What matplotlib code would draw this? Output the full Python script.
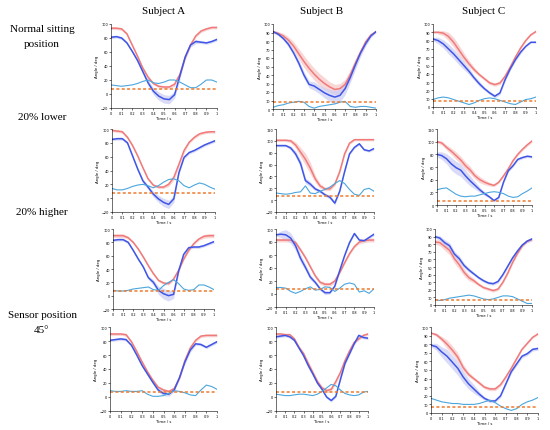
import numpy as np
import matplotlib.pyplot as plt

# time grid (s), 0.05 steps
time = np.round(np.arange(21) * 0.05, 2)

# row 1: normal sitting position
red_1a = [94, 94, 93, 86, 70, 54, 37, 24, 15, 11, 10, 10, 14, 28, 52, 70, 83, 90, 93, 95, 95]
blue_1a = [81, 82, 80, 73, 61, 48, 32, 16, 4, -3, -7, -8, -1, 26, 53, 70, 75, 74, 73, 75, 78]
cyan_1a = [13, 12, 11, 12, 13, 15, 18, 20, 16, 15, 17, 20, 20, 17, 13, 9, 9, 14, 20, 20, 17]
redsd_1a = [2, 2, 2, 2, 2, 2, 2, 2, 2, 2, 2, 2, 3, 3, 3, 2, 2, 2, 2, 2, 2]
bluesd_1a = [2, 2, 2, 2, 2, 3, 3, 4, 5, 6, 6, 6, 5, 4, 3, 3, 3, 2, 2, 2, 2]

red_1b = [91, 89, 86, 81, 74, 65, 56, 48, 41, 35, 30, 26, 23, 24, 29, 40, 54, 67, 79, 87, 91]
blue_1b = [91, 88, 83, 76, 66, 54, 40, 29, 27, 23, 19, 16, 14, 16, 24, 37, 52, 66, 77, 86, 91]
cyan_1b = [2, 4, 5, 7, 8, 9, 8, 3, 1, 3, 4, 5, 6, 8, 9, 3, 2, 3, 3, 2, 1]
redsd_1b = [2, 2, 3, 4, 5, 6, 7, 7, 7, 7, 7, 6, 6, 6, 6, 6, 5, 4, 3, 2, 1]
bluesd_1b = [1, 2, 2, 3, 3, 4, 4, 4, 5, 5, 6, 7, 8, 8, 7, 6, 5, 4, 3, 2, 1]

red_1c = [90, 90, 89, 85, 78, 69, 60, 52, 45, 39, 34, 29, 27, 29, 37, 48, 60, 71, 80, 87, 91]
blue_1c = [82, 80, 76, 70, 64, 57, 50, 43, 35, 28, 22, 17, 13, 17, 33, 46, 57, 66, 73, 78, 78]
cyan_1c = [9, 11, 12, 11, 9, 7, 5, 3, 5, 8, 10, 11, 10, 8, 6, 4, 3, 6, 9, 10, 12]
redsd_1c = [1, 2, 3, 5, 6, 6, 5, 4, 3, 2, 2, 2, 2, 2, 2, 2, 2, 2, 1, 1, 1]
bluesd_1c = [2, 4, 5, 6, 6, 6, 5, 4, 3, 3, 2, 2, 2, 2, 2, 2, 2, 2, 1, 1, 1]

# row 2: 20% lower
red_2a = [98, 97, 96, 88, 76, 61, 44, 28, 19, 16, 16, 20, 30, 49, 69, 81, 88, 93, 95, 96, 96]
blue_2a = [85, 86, 86, 80, 61, 42, 25, 16, 6, -1, -6, -9, -1, 37, 59, 66, 69, 73, 77, 80, 83]
cyan_2a = [14, 12, 12, 14, 17, 19, 20, 18, 15, 18, 23, 27, 28, 25, 18, 15, 19, 22, 20, 16, 13]
redsd_2a = [2, 2, 2, 2, 2, 2, 2, 2, 2, 2, 2, 3, 4, 4, 3, 2, 2, 2, 2, 2, 2]
bluesd_2a = [2, 2, 2, 2, 2, 2, 3, 3, 4, 5, 6, 6, 5, 3, 2, 2, 2, 2, 2, 2, 2]

red_2b = [101, 101, 101, 100, 93, 81, 69, 54, 36, 24, 19, 19, 27, 48, 78, 96, 102, 102, 102, 102, 102]
blue_2b = [92, 92, 92, 88, 78, 62, 33, 27, 19, 15, 9, 5, -5, 15, 48, 78, 89, 95, 85, 83, 87]
cyan_2b = [12, 11, 10, 11, 13, 14, 24, 12, 11, 15, 18, 22, 28, 33, 28, 18, 10, 8, 18, 20, 15]
redsd_2b = [2, 2, 2, 3, 5, 8, 10, 10, 6, 4, 3, 3, 3, 3, 3, 2, 2, 2, 2, 2, 2]
bluesd_2b = [2, 2, 2, 3, 5, 6, 5, 4, 3, 3, 3, 3, 3, 2, 2, 2, 2, 2, 2, 2, 2]

red_2c = [100, 98, 91, 85, 78, 71, 62, 55, 46, 40, 36, 33, 31, 36, 46, 57, 70, 80, 88, 95, 101]
blue_2c = [80, 78, 73, 65, 59, 55, 46, 38, 31, 24, 18, 13, 7, 12, 36, 54, 62, 72, 75, 77, 76]
cyan_2c = [24, 26, 27, 22, 17, 14, 13, 14, 14, 16, 18, 20, 21, 20, 18, 14, 12, 13, 18, 22, 27]
redsd_2c = [2, 3, 4, 5, 6, 6, 6, 6, 5, 5, 4, 3, 2, 2, 2, 2, 2, 2, 2, 2, 2]
bluesd_2c = [4, 6, 8, 10, 10, 10, 9, 8, 6, 4, 3, 2, 2, 2, 2, 2, 2, 2, 2, 2, 2]

# row 3: 20% higher
red_3a = [90, 90, 90, 87, 80, 70, 58, 45, 33, 23, 19, 18, 25, 38, 55, 68, 78, 85, 89, 90, 90]
blue_3a = [83, 84, 84, 80, 68, 55, 43, 27, 20, 8, 3, 0, 2, 37, 62, 72, 73, 73, 75, 78, 81]
cyan_3a = [8, 7, 7, 8, 10, 11, 12, 13, 9, 8, 15, 20, 24, 18, 10, 8, 9, 16, 16, 13, 9]
redsd_3a = [3, 3, 3, 2, 2, 2, 2, 2, 2, 2, 2, 2, 2, 2, 2, 2, 2, 2, 3, 3, 3]
bluesd_3a = [2, 2, 2, 2, 2, 2, 2, 3, 4, 6, 8, 8, 6, 3, 2, 2, 2, 2, 2, 2, 2]

red_3b = [83, 83, 83, 83, 79, 68, 56, 42, 28, 18, 15, 15, 20, 33, 48, 62, 73, 80, 82, 83, 83]
blue_3b = [91, 92, 91, 86, 74, 55, 41, 26, 18, 8, 2, 2, 12, 36, 59, 79, 93, 83, 82, 87, 92]
cyan_3b = [10, 10, 9, 4, 1, 4, 8, 11, 6, 7, 11, 10, 4, 9, 15, 17, 15, 3, 5, 1, 8]
redsd_3b = [3, 3, 3, 3, 3, 3, 3, 3, 3, 3, 3, 3, 3, 2, 2, 2, 2, 3, 3, 3, 3]
bluesd_3b = [2, 5, 8, 8, 7, 6, 5, 4, 3, 3, 3, 2, 2, 2, 2, 2, 2, 2, 2, 2, 2]

red_3c = [83, 82, 77, 72, 61, 53, 43, 36, 32, 27, 23, 21, 19, 21, 30, 42, 56, 68, 78, 84, 86]
blue_3c = [90, 88, 82, 78, 67, 61, 52, 46, 41, 36, 32, 29, 28, 31, 40, 51, 62, 71, 79, 84, 87]
cyan_3c = [7, 6, 7, 9, 10, 11, 12, 13, 12, 10, 8, 7, 8, 10, 12, 12, 11, 8, 5, 2, 2]
redsd_3c = [3, 4, 5, 6, 6, 6, 5, 4, 3, 2, 2, 2, 2, 2, 2, 2, 2, 2, 2, 2, 2]
bluesd_3c = [2, 3, 4, 4, 4, 4, 3, 3, 2, 2, 2, 2, 2, 2, 2, 2, 2, 2, 2, 2, 2]

# row 4: sensor position 45 deg
red_4a = [90, 90, 90, 89, 79, 65, 50, 36, 24, 14, 10, 8, 12, 27, 52, 70, 81, 87, 88, 88, 88]
blue_4a = [81, 82, 83, 82, 74, 60, 45, 33, 21, 10, 5, 4, 10, 28, 50, 67, 76, 75, 71, 75, 79]
cyan_4a = [9, 8, 8, 9, 8, 8, 9, 4, 1, 1, 2, 5, 9, 8, 6, 3, 2, 10, 17, 15, 11]
redsd_4a = [2, 2, 2, 2, 2, 2, 2, 2, 2, 2, 2, 2, 2, 2, 2, 2, 2, 2, 2, 2, 2]
bluesd_4a = [2, 2, 2, 2, 2, 2, 2, 2, 2, 3, 3, 3, 2, 2, 3, 3, 2, 2, 2, 2, 2]

red_4b = [90, 90, 89, 89, 83, 71, 62, 48, 35, 22, 13, 9, 11, 22, 35, 52, 66, 78, 83, 88, 90]
blue_4b = [86, 87, 88, 86, 81, 70, 59, 45, 33, 20, 11, 0, -5, 1, 25, 48, 62, 76, 88, 85, 84]
cyan_4b = [4, 3, 2, 2, 3, 4, 4, 3, 2, 4, 8, 13, 18, 16, 10, 5, 3, 2, 3, 7, 8]
redsd_4b = [2, 2, 2, 2, 2, 2, 2, 3, 3, 3, 3, 3, 3, 3, 3, 3, 2, 2, 2, 2, 2]
bluesd_4b = [2, 2, 2, 2, 2, 2, 2, 2, 2, 2, 2, 2, 2, 2, 2, 2, 2, 2, 2, 2, 2]

red_4c = [93, 91, 86, 80, 73, 65, 53, 45, 40, 35, 30, 28, 28, 33, 42, 52, 63, 74, 81, 88, 92]
blue_4c = [79, 77, 71, 66, 59, 52, 42, 34, 28, 22, 17, 14, 14, 20, 34, 48, 57, 66, 69, 74, 75]
cyan_4c = [17, 15, 13, 12, 11, 11, 10, 10, 10, 11, 13, 15, 12, 8, 5, 3, 5, 10, 13, 15, 18]
redsd_4c = [1, 2, 3, 5, 5, 5, 4, 3, 2, 2, 2, 2, 2, 2, 2, 2, 2, 1, 1, 1, 1]
bluesd_4c = [2, 4, 6, 8, 8, 8, 7, 6, 5, 3, 2, 2, 2, 2, 2, 2, 2, 2, 2, 2, 2]

# threshold (orange dashed line), per row / column
thresholds = [[7, 8, 7], [7, 7, 7], [7, 8, 7], [7, 7, 7]]
# y limits and tick steps
ylims = [[(-20, 100, 20), (0, 100, 10), (0, 100, 10)],
         [(-20, 100, 20), (-20, 120, 20), (0, 120, 20)],
         [(-20, 100, 20), (-20, 100, 20), (0, 100, 10)],
         [(-20, 100, 20), (-20, 100, 20), (0, 100, 10)]]

subjects = ["Subject A", "Subject B", "Subject C"]
conditions = ["Normal sitting\nposition", "20% lower", "20% higher", "Sensor position\n45°"]

panels = [
    [(red_1a, blue_1a, cyan_1a, redsd_1a, bluesd_1a),
     (red_1b, blue_1b, cyan_1b, redsd_1b, bluesd_1b),
     (red_1c, blue_1c, cyan_1c, redsd_1c, bluesd_1c)],
    [(red_2a, blue_2a, cyan_2a, redsd_2a, bluesd_2a),
     (red_2b, blue_2b, cyan_2b, redsd_2b, bluesd_2b),
     (red_2c, blue_2c, cyan_2c, redsd_2c, bluesd_2c)],
    [(red_3a, blue_3a, cyan_3a, redsd_3a, bluesd_3a),
     (red_3b, blue_3b, cyan_3b, redsd_3b, bluesd_3b),
     (red_3c, blue_3c, cyan_3c, redsd_3c, bluesd_3c)],
    [(red_4a, blue_4a, cyan_4a, redsd_4a, bluesd_4a),
     (red_4b, blue_4b, cyan_4b, redsd_4b, bluesd_4b),
     (red_4c, blue_4c, cyan_4c, redsd_4c, bluesd_4c)],
]

# pixel boxes (x0, x1, ytop, ybottom) of each panel
boxes = [
    [(111, 217, 25, 109), (273, 376, 25, 110), (433, 536, 25, 108)],
    [(112, 215, 130, 213), (276, 374, 130, 213), (437, 532, 130, 206)],
    [(113, 214, 230, 310), (276, 374, 230, 308), (435, 532, 230, 306)],
    [(110, 217, 328, 412), (276, 368, 328, 412), (431, 538, 328, 414)],
]

W, H = 550, 431
fig = plt.figure(figsize=(W / 100, H / 100), dpi=100)

for r in range(4):
    for c in range(3):
        x0, x1, yt, yb = boxes[r][c]
        ax = fig.add_axes([x0 / W, 1 - yb / H, (x1 - x0) / W, (yb - yt) / H])
        red, blue, cyan, rsd, bsd = [np.array(a, dtype=float) for a in panels[r][c]]
        ax.fill_between(time, red - rsd, red + rsd, color="#f7c6c6", alpha=0.7, lw=0)
        ax.fill_between(time, blue - bsd, blue + bsd, color="#c9ccf4", alpha=0.7, lw=0)
        ax.plot(time, red, color="#f07a7a", lw=1.1)
        ax.plot(time, blue, color="#3f55e6", lw=1.1)
        ax.plot(time, cyan, color="#4ba6dd", lw=0.8)
        ax.axhline(thresholds[r][c], color="#ee7a2e", lw=1.1, ls=(0, (2, 1.5)))

        lo, hi, step = ylims[r][c]
        ax.set_ylim(lo, hi)
        ax.set_yticks(np.arange(lo, hi + 1, step))
        ax.set_xlim(0, 1)
        ax.set_xticks(np.round(np.arange(11) * 0.1, 1))
        ax.set_xticklabels(["0"] + [f"{v / 10:.1f}" for v in range(1, 10)] + ["1"])
        for s in ["top", "right"]:
            ax.spines[s].set_visible(False)
        for s in ["left", "bottom"]:
            ax.spines[s].set_linewidth(0.4)
        ax.tick_params(labelsize=2.5, length=1.2, width=0.4, pad=1)
        ax.set_xlabel("Time / s", fontsize=2.8, labelpad=0.5)
        ax.set_ylabel("Angle / deg", fontsize=2.8, labelpad=1)

# column titles
title_x = [164, 322, 484]
for c in range(3):
    fig.text(title_x[c] / W, 1 - 12 / H, subjects[c], ha="center", va="center",
             fontsize=8, family="Liberation Serif")

# row labels
label_y = [37, 117, 213, 323]
for r in range(4):
    fig.text(42 / W, 1 - label_y[r] / H, conditions[r], ha="center", va="center",
             fontsize=8, family="Liberation Serif", linespacing=1.9)

fig.savefig("out.png", dpi=100)
